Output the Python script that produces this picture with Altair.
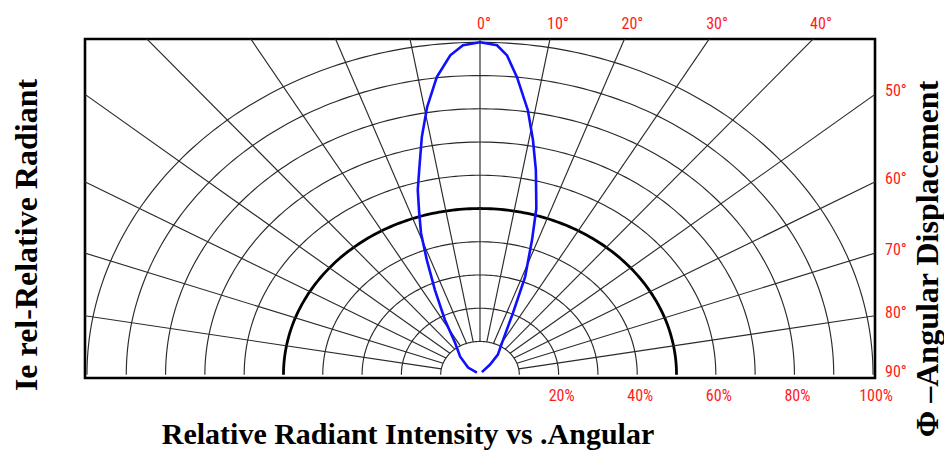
import altair as alt
import numpy as np
import pandas as pd

# ---------------- data ----------------
# Blue radiation pattern: angular displacement (deg) and relative intensity
CURVE_ANGLE = [-52, -55, -43, -33.5, -28.4, -24.2, -21.4, -19.4, -17.4, -15.9, -14.1,
               -11.7, -9.5, -7.0, -4.5, -2.5, 0, 2.5, 4.1, 6.0, 8.7, 10.8, 13.0, 16.0,
               18.1, 21.3, 24.3, 30.3, 37, 40, 32]
CURVE_INTENSITY = [0.010, 0.037, 0.074, 0.115, 0.188, 0.280, 0.371, 0.452, 0.519, 0.578,
                   0.635, 0.730, 0.816, 0.902, 0.964, 0.992, 1.000, 0.992, 0.963, 0.900,
                   0.805, 0.719, 0.632, 0.520, 0.426, 0.316, 0.204, 0.111, 0.0755, 0.039,
                   0.009]

# Polar grid
RING_LEVELS = [0.1, 0.2, 0.3, 0.4, 0.6, 0.7, 0.8, 0.9, 1.0]
THICK_RING = [0.5]
SPOKE_ANGLES = [-80, -70, -60, -50, -40, -30, -20, -10, 0, 10, 20, 30, 40, 50, 60, 70, 80]

# Tick labels
TOP_ANGLES = [0, 10, 20, 30, 40]
SIDE_ANGLES = [50, 60, 70, 80, 90]
PERCENTS = [20, 40, 60, 80, 100]

LEFT_TITLE = "Ie rel-Relative Radiant"
RIGHT_TITLE = "\u03a6 \u2013Angular Displacement"
BOTTOM_TITLE = "Relative Radiant Intensity vs .Angular"

# ---------------- geometry tables ----------------
U_MAX = 1.005
V_MIN, V_MAX = -0.01, 1.01

sweep = np.arange(-90, 91, 1)


def ring_table(levels):
    rows = []
    for r in levels:
        for i, a in enumerate(sweep):
            rows.append({"ring": r, "idx": i, "theta": float(a), "r": r})
    return pd.DataFrame(rows)


rings_df = ring_table(RING_LEVELS)
thick_df = ring_table(THICK_RING)

spokes_df = pd.DataFrame(
    [{"spoke": a, "idx": j, "theta": a, "r": rr}
     for a in SPOKE_ANGLES for j, rr in enumerate([0.1, 1.6])]
)

curve_df = pd.DataFrame({"idx": range(len(CURVE_ANGLE)),
                         "theta": CURVE_ANGLE, "r": CURVE_INTENSITY})

top_df = pd.DataFrame({"theta": TOP_ANGLES,
                       "label": [f"{a}\u00b0" for a in TOP_ANGLES]})
top_df["u"] = V_MAX * np.tan(np.radians(top_df["theta"]))
top_df["v"] = V_MAX

side_df = pd.DataFrame({"theta": SIDE_ANGLES,
                        "label": [f"{a}\u00b0" for a in SIDE_ANGLES]})
side_df["u"] = U_MAX
side_df["v"] = U_MAX * np.cos(np.radians(side_df["theta"])) / np.sin(np.radians(side_df["theta"]))

pct_df = pd.DataFrame({"u": [p / 100 for p in PERCENTS],
                       "label": [f"{p}%" for p in PERCENTS]})

xs = alt.Scale(domain=[-U_MAX, U_MAX], nice=False, zero=False)
ys = alt.Scale(domain=[V_MIN, V_MAX], nice=False, zero=False)


def polar(chart):
    return chart.transform_calculate(
        u="datum.r * sin(datum.theta * PI / 180)",
        v="datum.r * cos(datum.theta * PI / 180)",
    )


X = alt.X("u:Q", scale=xs, axis=None)
Y = alt.Y("v:Q", scale=ys, axis=None)

rings = polar(alt.Chart(rings_df)).mark_line(
    color="#2a2a2a", strokeWidth=1.15, clip=True
).encode(x=X, y=Y, detail="ring:N", order="idx:Q")

thick = polar(alt.Chart(thick_df)).mark_line(
    color="black", strokeWidth=2.8, clip=True
).encode(x=X, y=Y, detail="ring:N", order="idx:Q")

spokes = polar(alt.Chart(spokes_df)).mark_line(
    color="#2a2a2a", strokeWidth=1.15, clip=True
).encode(x=X, y=Y, detail="spoke:N", order="idx:Q")

curve = polar(alt.Chart(curve_df)).mark_line(
    color="#1010ff", strokeWidth=2.6, clip=True
).encode(x=X, y=Y, order="idx:Q")

LABEL_FONT = "Liberation Sans Narrow, Roboto Condensed, DejaVu Sans Condensed, Liberation Sans, sans-serif"
RED = "#ff1a1a"

top_labels = alt.Chart(top_df).mark_text(
    font=LABEL_FONT, fontSize=16, color=RED, align="left", baseline="middle", dx=-3, dy=-15
).encode(x=X, y=Y, text="label:N")

side_labels = alt.Chart(side_df).mark_text(
    font=LABEL_FONT, fontSize=16, color=RED, align="left", baseline="middle", dx=10, dy=-3
).encode(x=X, y=Y, text="label:N")

pct_labels = alt.Chart(pct_df).mark_text(
    font=LABEL_FONT, fontSize=16, color=RED, align="center", baseline="middle", dx=3
).encode(x=X, y=alt.value(357), text="label:N")

TITLE_FONT = "Liberation Serif, Times New Roman, serif"
one = pd.DataFrame({"k": [0]})

left_title = alt.Chart(one).mark_text(
    text=LEFT_TITLE, font=TITLE_FONT, fontSize=32, fontWeight="bold", angle=270,
    align="center", baseline="middle", color="black"
).encode(x=alt.value(-58), y=alt.value(196))

right_title = alt.Chart(one).mark_text(
    text=RIGHT_TITLE, font=TITLE_FONT, fontSize=32, fontWeight="bold", angle=270,
    align="center", baseline="middle", color="black"
).encode(x=alt.value(843), y=alt.value(220))

bottom_title = alt.Chart(one).mark_text(
    text=BOTTOM_TITLE, font=TITLE_FONT, fontSize=30, fontWeight="bold",
    align="center", baseline="alphabetic", color="black"
).encode(x=alt.value(323), y=alt.value(405))

chart = alt.layer(
    rings, thick, spokes, curve, top_labels, side_labels, pct_labels,
    left_title, right_title, bottom_title
).properties(
    width=790, height=339,
    padding={"left": 77, "top": 31, "right": 69, "bottom": 73},
    autosize=alt.AutoSizeParams(type="none"),
    background="white",
).configure_view(stroke="black", strokeWidth=2.6)

chart.save("out.html", embed_options={"renderer": "svg", "actions": False})
